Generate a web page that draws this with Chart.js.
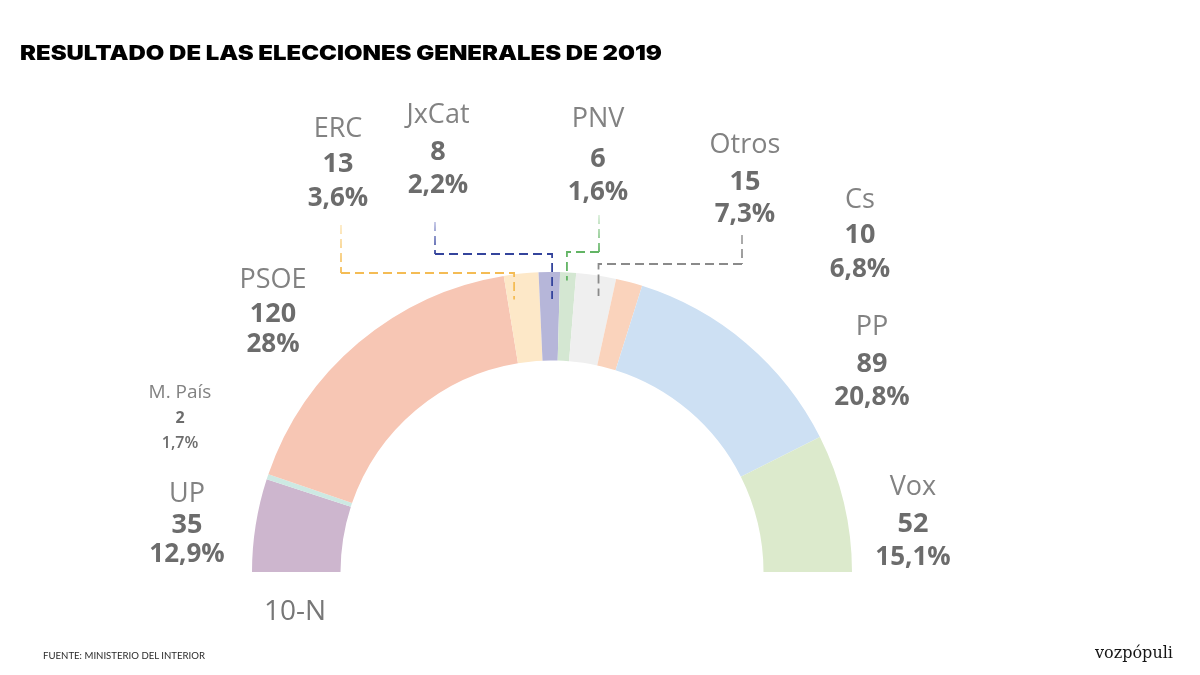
<!DOCTYPE html>
<html>
<head>
<meta charset="utf-8">
<script src="https://cdn.jsdelivr.net/npm/chart.js@4.4.1/dist/chart.umd.min.js"></script>
<style>
  html, body { margin: 0; padding: 0; background: #fff; }
  #wrap { position: relative; width: 1200px; height: 675px; overflow: hidden; background: #fff; }
  #chart { position: absolute; left: 0; top: 0; }
  .txt { position: absolute; white-space: nowrap; line-height: 1; transform-origin: 0 0; }
  .mk { display: inline-block; width: 0; height: 0; vertical-align: baseline; }
</style>
</head>
<body>
<div id="wrap">
  <canvas id="chart" width="1200" height="675"></canvas>
</div>
<script>
// ---------- DATA ----------
const parties   = ['UP', 'M. País', 'PSOE', 'ERC', 'JxCat', 'PNV', 'Otros', 'Cs', 'PP', 'Vox'];
const seats     = [35, 2, 120, 13, 8, 6, 15, 10, 89, 52];
const votePct   = ['12,9%', '1,7%', '28%', '3,6%', '2,2%', '1,6%', '7,3%', '6,8%', '20,8%', '15,1%'];
const chartTitle = 'RESULTADO DE LAS ELECCIONES GENERALES DE 2019';
const centerLabel = '10-N';
const sourceNote = 'FUENTE: MINISTERIO DEL INTERIOR';

// ---------- STYLE / LAYOUT ----------
const partyColors = ['#cdb6ce', '#cde9e3', '#f7c6b4', '#fde8c8', '#b6b6d9', '#d4e7d2', '#efefef', '#fad3bc', '#cde0f3', '#dceacc'];

// label block: centre x and three baselines; small = reduced size
const labelLayout = [
  { cx: 187, b: [502, 533, 562] },
  { cx: 180, b: [398, 423, 448], small: true },
  { cx: 273, b: [288, 322, 352] },
  { cx: 338, b: [137, 172, 206] },
  { cx: 438, b: [123, 160, 193] },
  { cx: 598, b: [127, 167, 200] },
  { cx: 745, b: [153, 190, 222] },
  { cx: 860, b: [208, 243, 277] },
  { cx: 872, b: [335, 372, 405] },
  { cx: 913, b: [495, 532, 565] }
];

// leader: segment index, start point under label, elbow height, depth into ring, position inside segment
const leaderLayout = [
  { index: 3, x0: 341, y0: 225, elbowY: 273, depth: 25, frac: 0.2,  color: '#f4bc55', pale: '#fdebc6' },
  { index: 4, x0: 435, y0: 222, elbowY: 254, depth: 27, frac: 0.63, color: '#34449c', pale: '#c3c6e6' },
  { index: 5, x0: 599, y0: 215, elbowY: 252, depth: 8,  frac: 0.45, color: '#62b464', pale: '#dcefdc' },
  { index: 6, x0: 742, y0: 235, elbowY: 264, depth: 20, frac: 0.64, color: '#8a8a8a', pale: '#a8a8a8' }
];

// ---------- TEXT HELPERS ----------
const wrap = document.getElementById('wrap');
function placeText(text, o) {
  const d = document.createElement('div');
  d.className = 'txt';
  d.style.font = o.font;
  d.style.color = o.color || '#000';
  d.appendChild(document.createTextNode(text));
  const mk = document.createElement('span');
  mk.className = 'mk';
  d.appendChild(mk);
  wrap.appendChild(d);
  const base = mk.offsetTop;
  let w = d.getBoundingClientRect().width;
  if (o.fitWidth) { d.style.transform = 'scaleX(' + (o.fitWidth / w) + ')'; w = o.fitWidth; }
  let left = o.x;
  if (o.align === 'center') left = o.x - w / 2;
  d.style.left = left + 'px';
  d.style.top = (o.baseline - base) + 'px';
  return d;
}

// ---------- LEADER LINES PLUGIN ----------
const leaderPlugin = {
  id: 'leaders',
  afterDatasetsDraw(chart) {
    const meta = chart.getDatasetMeta(0);
    const ctx = chart.ctx;
    leaderLayout.forEach(L => {
      const arc = meta.data[L.index];
      const p = arc.getProps(['x', 'y', 'startAngle', 'endAngle', 'outerRadius'], true);
      const a = p.startAngle + (p.endAngle - p.startAngle) * L.frac;
      const r = p.outerRadius - L.depth;
      const ex = p.x + Math.cos(a) * r;
      const ey = p.y + Math.sin(a) * r;
      ctx.save();
      ctx.lineWidth = 1.8;
      ctx.setLineDash([9, 5]);
      const g = ctx.createLinearGradient(0, L.y0, 0, L.elbowY);
      g.addColorStop(0, L.pale);
      g.addColorStop(1, L.color);
      ctx.strokeStyle = g;
      ctx.beginPath();
      ctx.moveTo(L.x0, L.y0);
      ctx.lineTo(L.x0, L.elbowY);
      ctx.stroke();
      ctx.strokeStyle = L.color;
      ctx.beginPath();
      ctx.moveTo(L.x0, L.elbowY);
      ctx.lineTo(ex, L.elbowY);
      ctx.lineTo(ex, ey);
      ctx.stroke();
      ctx.restore();
    });
  }
};

// ---------- CHART ----------
new Chart(document.getElementById('chart').getContext('2d'), {
  type: 'doughnut',
  data: {
    labels: parties,
    datasets: [{
      data: seats,
      backgroundColor: partyColors,
      borderWidth: 0,
      hoverOffset: 0
    }]
  },
  options: {
    responsive: false,
    animation: false,
    events: [],
    rotation: -90,
    circumference: 180,
    cutout: '70.5%',
    layout: { padding: { left: 252, right: 348, top: 272, bottom: 103 } },
    plugins: {
      legend: { display: false },
      tooltip: { enabled: false },
      title: { display: false }
    }
  },
  plugins: [leaderPlugin]
});

// ---------- TEXTS ----------
placeText(chartTitle, { x: 20, baseline: 60, font: '900 20px Inter', color: '#000', fitWidth: 642 });

parties.forEach((name, i) => {
  const L = labelLayout[i];
  const s = L.small;
  placeText(name, { x: L.cx, baseline: L.b[0], align: 'center', font: (s ? '400 19px' : '400 27px') + ' "Open Sans"', color: '#828282' });
  placeText(String(seats[i]), { x: L.cx, baseline: L.b[1], align: 'center', font: (s ? '700 16px' : '700 27px') + ' "Open Sans"', color: '#6c6c6c' });
  placeText(votePct[i], { x: L.cx, baseline: L.b[2], align: 'center', font: (s ? '600 16px' : '700 26px') + ' "Open Sans"', color: '#6c6c6c' });
});

placeText(centerLabel, { x: 295, baseline: 620, align: 'center', font: '400 28px "Open Sans"', color: '#777' });
placeText(sourceNote, { x: 43, baseline: 659, font: '400 10px Lato', color: '#2a2a2a', fitWidth: 162 });
placeText('vozpópuli', { x: 1095, baseline: 658, font: '400 17px "DejaVu Serif"', color: '#151515', fitWidth: 78 });
</script>
</body>
</html>
